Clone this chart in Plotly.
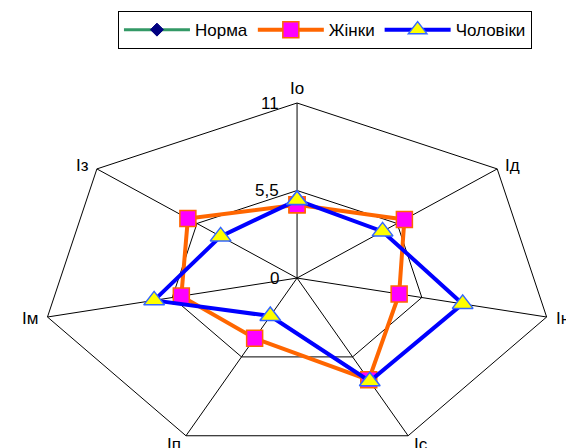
import numpy as np
import plotly.graph_objects as go

categories = ["Іо", "Ід", "Ін", "Іс", "Іп", "Ім", "Із"]
norma = []  # Норма series has no visible points in the chart
zhinky = [4.6, 5.9, 4.5, 7.1, 4.2, 5.1, 6.0]
choloviky = [4.9, 4.7, 7.3, 7.2, 2.65, 6.3, 4.2]
tick_values = [0, 5.5, 11]
tick_labels = ["0", "5,5", "11"]
r_max = 11

n = len(categories)
angles = np.arange(n) * 2 * np.pi / n  # clockwise from top


def to_xy(vals):
    v = np.asarray(vals, dtype=float)
    a = angles[: len(v)]
    x = v * np.sin(a)
    y = v * np.cos(a)
    return np.append(x, x[0]), np.append(y, y[0])


fig = go.Figure()

# grid: heptagons and spokes
for lvl in tick_values[1:]:
    gx, gy = to_xy([lvl] * n)
    fig.add_trace(go.Scatter(x=gx, y=gy, mode="lines", line=dict(color="black", width=1),
                             hoverinfo="skip", showlegend=False))
for a in angles:
    fig.add_trace(go.Scatter(x=[0, r_max * np.sin(a)], y=[0, r_max * np.cos(a)], mode="lines",
                             line=dict(color="black", width=1), hoverinfo="skip", showlegend=False))

# Норма (legend only entry)
fig.add_trace(go.Scatter(x=[None], y=[None], mode="lines+markers", name="Норма",
                         line=dict(color="#339966", width=3),
                         marker=dict(symbol="diamond", color="#000080", size=10,
                                     line=dict(color="#000080", width=1))))

zx, zy = to_xy(zhinky)
fig.add_trace(go.Scatter(x=zx, y=zy, mode="lines+markers", name="Жінки",
                         line=dict(color="#FF6600", width=4),
                         marker=dict(symbol="square", color="#FF00FF", size=16,
                                     line=dict(color="#FF6600", width=1.5))))

cx, cy = to_xy(choloviky)
fig.add_trace(go.Scatter(x=cx, y=cy, mode="lines+markers", name="Чоловіки",
                         line=dict(color="#0000FF", width=4),
                         marker=dict(symbol="triangle-up", color="#FFFF00", size=18,
                                     line=dict(color="#3366FF", width=1.5))))

annotations = []
for cat, a in zip(categories, angles):
    s, c = np.sin(a), np.cos(a)
    xa = "left" if s > 0.1 else ("right" if s < -0.1 else "center")
    if c > 0.9:
        ya, ys = "bottom", 3
    elif c < -0.7:
        ya, ys = "top", 3
    else:
        ya, ys = "middle", 6 * c
    annotations.append(dict(x=r_max * s, y=r_max * c, text=cat, showarrow=False,
                            xanchor=xa, yanchor=ya, xshift=8 * s, yshift=ys,
                            font=dict(size=17, color="black")))
for tv, tl in zip(tick_values, tick_labels):
    annotations.append(dict(x=0, y=tv, text=tl, showarrow=False, xanchor="right",
                            yanchor="middle", xshift=-16, font=dict(size=17, color="black")))

# the page places the figure 8px from the top-left corner
fig.update_layout(
    width=566, height=440,
    margin=dict(l=0, r=0, t=0, b=0),
    paper_bgcolor="white", plot_bgcolor="white",
    font=dict(family="Liberation Sans, Arial, sans-serif", size=17, color="black"),
    xaxis=dict(range=[-12.42, 11.9], visible=False, fixedrange=True),
    yaxis=dict(range=[-10.68, 16.97], visible=False, fixedrange=True),
    showlegend=True,
    legend=dict(orientation="h", x=0.56, xanchor="center", y=0.993, yanchor="top",
                bordercolor="black", borderwidth=1, bgcolor="white",
                font=dict(size=17), itemwidth=66, tracegroupgap=0),
    annotations=annotations,
)

fig.write_html("out.html")
